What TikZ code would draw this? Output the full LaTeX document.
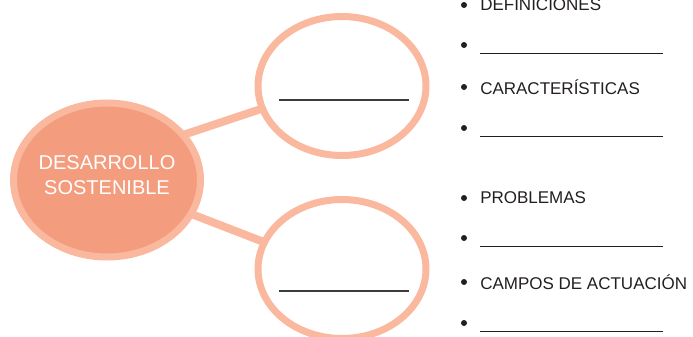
\documentclass[tikz,border=0pt]{standalone}
\usepackage{fontspec}
\setmainfont{Liberation Sans}
\usetikzlibrary{shapes.geometric,calc}
\definecolor{ringc}{RGB}{250,184,158}
\definecolor{fillc}{RGB}{244,157,126}
\definecolor{txtc}{RGB}{35,31,32}
\definecolor{linec}{RGB}{60,60,60}
\tikzset{
  hub/.style={ellipse, draw=ringc, line width=5.25pt, fill=fillc, inner sep=0pt,
    minimum width=140.25pt, minimum height=115.5pt},
  hubtext/.style={text=white, inner sep=0pt,
    font=\fontsize{15pt}{18.75pt}\selectfont, align=center},
  bubble/.style={ellipse, draw=ringc, line width=5.25pt, fill=white, inner sep=0pt,
    minimum width=126pt, minimum height=104.25pt},
  link/.style={draw=ringc, line width=6pt},
  blank/.style={draw=linec, line width=0.8pt},
  dot/.style={circle, fill=txtc, inner sep=0pt, minimum size=4.5pt},
  item/.style={anchor=west, inner sep=0pt, text=txtc, font=\fontsize{12.75pt}{15pt}\selectfont},
}
\begin{document}
\begin{tikzpicture}[x=0.75pt,y=-0.75pt]
\useasboundingbox (0,0) rectangle (693,336);
\clip (0,0) rectangle (693,336);
% nodes positions
\coordinate (hubc) at (107,180);
\coordinate (topc) at (342,86);
\coordinate (botc) at (342,269);
% connectors (behind)
\coordinate (l1a) at (150,146);
\coordinate (l1b) at (300,96);
\coordinate (l2a) at (150,198);
\coordinate (l2b) at (300,256);
\draw[link] (l1a) -- (l1b);
\draw[link] (l2a) -- (l2b);
\node[hub] (hub) at (hubc) {};
\node[hubtext] (hubt) at (107,175.5) {DESARROLLO\\SOSTENIBLE};
\node[bubble] (top) at (topc) {};
\node[bubble] (bot) at (botc) {};
\draw[blank] ($(top)+(-63,14)$) -- ($(top)+(67,14)$);
\draw[blank] ($(bot)+(-63,22)$) -- ($(bot)+(67,22)$);
% list
\foreach \n/\y/\t in {a/5/DEFINICIONES, c/87/CARACTERÍSTICAS, e/198/PROBLEMAS, g/282/CAMPOS DE ACTUACIÓN}{
  \node[dot] (d\n) at (464,\y) {};
  \node[item] (t\n) at (480,\y) {\t};
}
\foreach \n/\y in {b/45, d/128, f/238, h/323}{
  \node[dot] (d\n) at (464,\y) {};
  \coordinate (u\n) at (480,\y+8);
  \draw[blank, draw=txtc, line width=0.6pt] (u\n) -- ++(183,0);
}
\end{tikzpicture}
\end{document}
